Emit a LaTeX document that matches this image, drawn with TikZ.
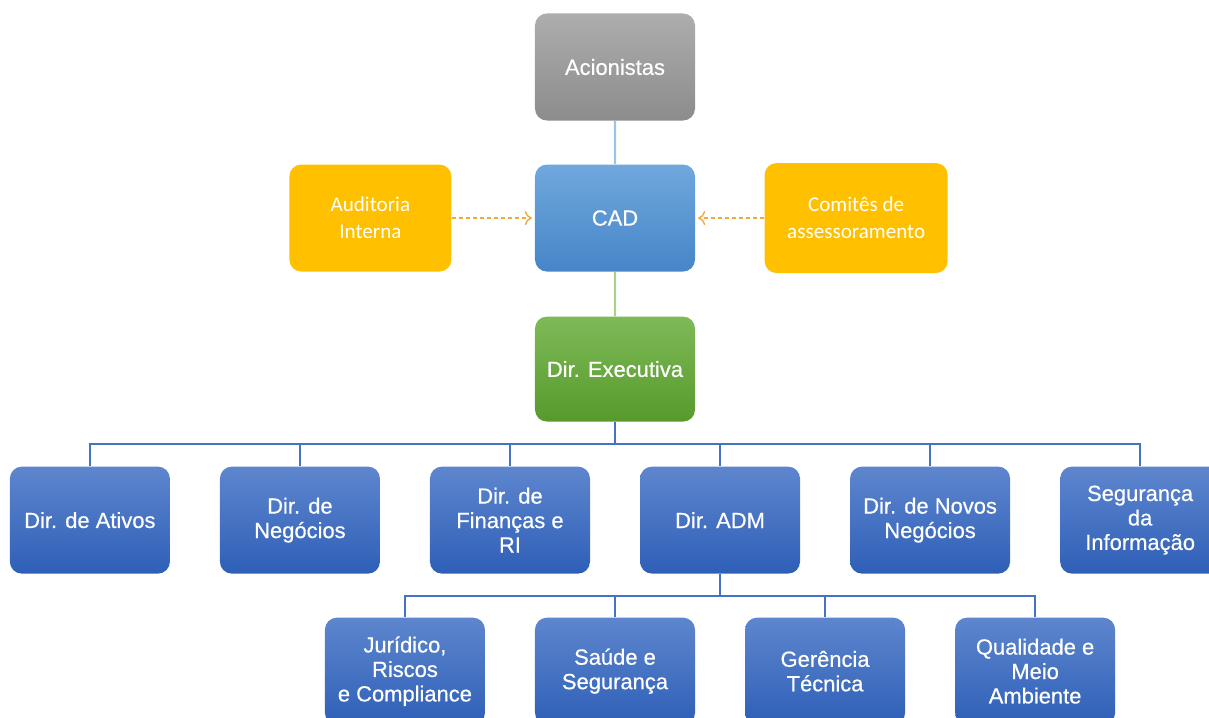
\documentclass[tikz,border=0pt]{standalone}
\usepackage{fontspec}
\setmainfont{Liberation Sans}
\newfontfamily\boxfont{Liberation Sans}[FakeBold=0.5]
\newfontfamily\calibfont{Carlito}
\usetikzlibrary{positioning,arrows.meta}

\definecolor{graytop}{HTML}{ADADAD}
\definecolor{graybot}{HTML}{8C8C8C}
\definecolor{cadtop}{HTML}{70A8DD}
\definecolor{cadbot}{HTML}{4685C8}
\definecolor{exectop}{HTML}{7EBA57}
\definecolor{execbot}{HTML}{579A2C}
\definecolor{dirtop}{HTML}{5E86CE}
\definecolor{dirbot}{HTML}{2E5FB7}
\definecolor{orangefill}{HTML}{FFC000}
\definecolor{arrowcol}{HTML}{F2A93B}
\definecolor{acline}{HTML}{9DC3E6}
\definecolor{exline}{HTML}{A9D18E}
\definecolor{busline}{HTML}{4472C4}

\begin{document}
\begin{tikzpicture}[x=0.025cm, y=0.025cm,
			level distance=3.775cm,
			level 1/.style={edge from parent/.style={draw=acline, line width=1.5pt}},
			level 2/.style={edge from parent/.style={draw=exline, line width=1.5pt}},
			level 3/.style={sibling distance=5.25cm,
				edge from parent/.style={draw=busline, line width=1.5pt},
				edge from parent path={(\tikzparentnode.south) -- ++(0,-0.56cm) -| (\tikzchildnode.north)}},
			level 4/.style={sibling distance=5.25cm},
			every node/.style = {rounded corners=0.3cm, minimum width=4cm, minimum height=2.675cm,
				align=center, text=white, inner sep=2pt, font=\boxfont\fontsize{15.6}{17.4}\selectfont},
			graybox/.style={top color=graytop, bottom color=graybot},
			cadbox/.style={top color=cadtop, bottom color=cadbot},
			execbox/.style={top color=exectop, bottom color=execbot, minimum height=2.625cm},
			dirbox/.style={top color=dirtop, bottom color=dirbot},
			orangebox/.style={fill=orangefill, font=\calibfont\fontsize{15}{19}\selectfont},
			arrowline/.style={draw=arrowcol, densely dashed, line width=1pt, shorten >=2pt}]
			
			\useasboundingbox (0,0) rectangle (1209,-717);
			\clip (0,0) rectangle (1209,-717);
			
			\node[graybox] (acion) at (615,-67) {Acionistas}
			child {node[cadbox] (cad) {CAD}
				child {node[execbox] (exec) {Dir. Executiva}
					child {node[dirbox] (ativos) {Dir. de Ativos}}
					child {node[dirbox] (negocios) {Dir. de\\Negócios}}
					child {node[dirbox] (financas) {Dir. de\\Finanças e\\RI}}
					child {node[dirbox] (adm) {Dir. ADM}
						child {node[dirbox] (juridico) {Jurídico,\\Riscos\\e Compliance}}
						child {node[dirbox] (saude) {Saúde e\\Segurança}}
						child {node[dirbox] (gerencia) {Gerência\\Técnica}}
						child {node[dirbox] (qualidade) {Qualidade e\\Meio\\Ambiente}}
					}
					child {node[dirbox] (novos) {Dir. de Novos\\Negócios}}
					child {node[dirbox] (seguranca) {Segurança\\da\\Informação}}
				}
			};
			
			\node[orangebox, minimum width=4.05cm, left=2.075cm of cad] (auditoria) {Auditoria\\Interna};
			\node[orangebox, minimum width=4.575cm, minimum height=2.75cm, right=1.725cm of cad] (comites) {Comitês de\\assessoramento};
			
			\draw[arrowline, -{To[length=5pt, width=10pt, line width=1pt]}] (auditoria) -- (cad);
			\draw[arrowline, -{To[length=5pt, width=10pt, line width=1pt]}] (comites) -- (cad);
			\end{tikzpicture}
\end{document}
